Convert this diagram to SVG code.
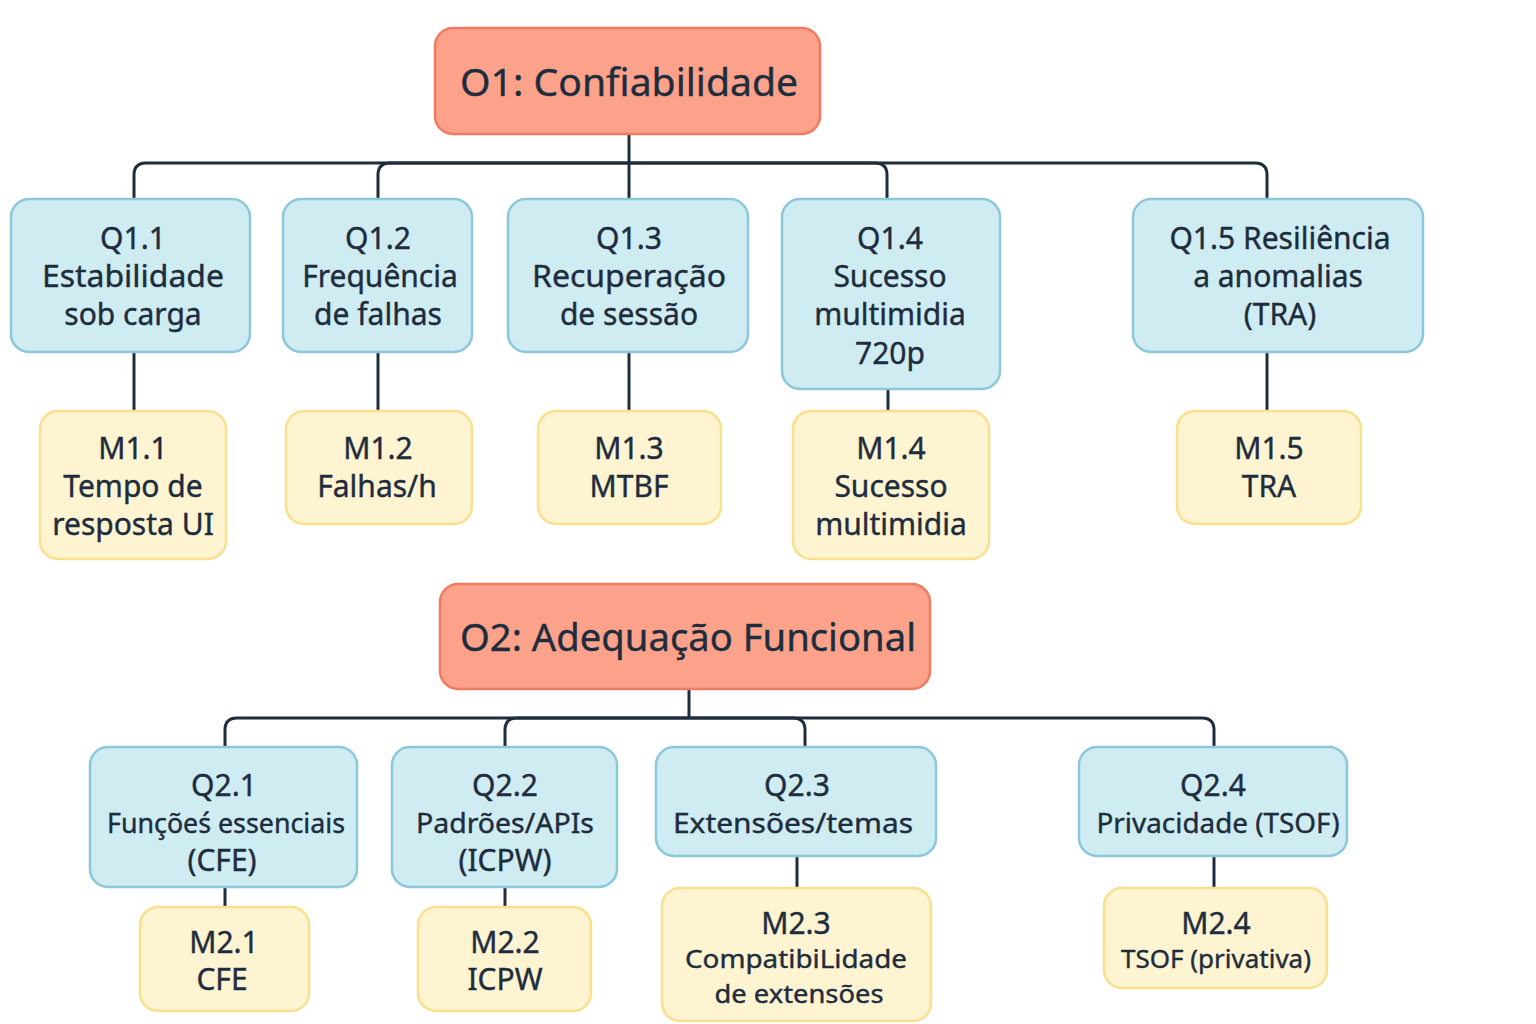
<svg xmlns="http://www.w3.org/2000/svg" width="1536" height="1024" viewBox="0 0 1536 1024">
<style>
.o{fill:#FCA28A;stroke:#F07A62;stroke-width:2.5}
.q{fill:#D0ECF3;stroke:#8DC7DA;stroke-width:2.5}
.m{fill:#FFF4D2;stroke:#FADF8C;stroke-width:2.5}
text{font-family:"Noto Sans","Open Sans","DejaVu Sans",sans-serif;fill:#1E2D3D;text-anchor:middle;stroke:#1E2D3D;stroke-width:0.4}
.t1{font-size:39px}
.t2{font-size:30px}
.t3{font-size:27px}
.t4{font-size:26px}
.c{fill:none;stroke:#1E2D3D;stroke-width:3}
</style>
<rect width="1536" height="1024" fill="#FFFFFF"/>
<g id="connectors">
<path class="c" d="M629,134 V199"/>
<path class="c" d="M629,163 H146 Q134,163 134,175 V199"/>
<path class="c" d="M629,163 H390 Q378,163 378,175 V199"/>
<path class="c" d="M629,163 H875 Q887,163 887,175 V199"/>
<path class="c" d="M629,163 H1255 Q1267,163 1267,175 V199"/>
<path class="c" d="M134,352 V411"/>
<path class="c" d="M378,352 V411"/>
<path class="c" d="M629,352 V411"/>
<path class="c" d="M888,389 V411"/>
<path class="c" d="M1267,352 V411"/>
<path class="c" d="M689,689 V718"/>
<path class="c" d="M689,718 H237 Q225,718 225,730 V747"/>
<path class="c" d="M689,718 H517 Q505,718 505,730 V747"/>
<path class="c" d="M689,718 H793 Q805,718 805,730 V747"/>
<path class="c" d="M689,718 H1202 Q1214,718 1214,730 V747"/>
<path class="c" d="M225,887 V907"/>
<path class="c" d="M505,887 V907"/>
<path class="c" d="M797,856 V888"/>
<path class="c" d="M1214,856 V888"/>
</g>
<g id="O1"><rect class="o" x="435" y="28" width="385" height="106" rx="18"/><text class="t1" x="629" y="96" textLength="338" lengthAdjust="spacingAndGlyphs">O1: Confiabilidade</text></g>
<g id="Q1.1"><rect class="q" x="11" y="199" width="239" height="153" rx="18"/><text class="t2" x="133" y="249">Q1.1</text><text class="t2" x="133" y="287" textLength="182" lengthAdjust="spacingAndGlyphs">Estabilidade</text><text class="t2" x="133" y="325">sob carga</text></g>
<g id="Q1.2"><rect class="q" x="283" y="199" width="189" height="153" rx="18"/><text class="t2" x="378" y="249">Q1.2</text><text class="t2" x="380" y="287">Frequência</text><text class="t2" x="378" y="325">de falhas</text></g>
<g id="Q1.3"><rect class="q" x="508" y="199" width="240" height="153" rx="18"/><text class="t2" x="629" y="249">Q1.3</text><text class="t2" x="629" y="287" textLength="194" lengthAdjust="spacingAndGlyphs">Recuperação</text><text class="t2" x="629" y="325">de sessão</text></g>
<g id="Q1.4"><rect class="q" x="782" y="199" width="218" height="190" rx="18"/><text class="t2" x="890" y="249">Q1.4</text><text class="t2" x="890" y="287">Sucesso</text><text class="t2" x="890" y="325">multimidia</text><text class="t2" x="890" y="364">720p</text></g>
<g id="Q1.5"><rect class="q" x="1133" y="199" width="290" height="153" rx="18"/><text class="t2" x="1280" y="249">Q1.5 Resiliência</text><text class="t2" x="1278" y="287">a anomalias</text><text class="t2" x="1280" y="325">(TRA)</text></g>
<g id="M1.1"><rect class="m" x="40" y="411" width="186" height="148" rx="18"/><text class="t2" x="133" y="459">M1.1</text><text class="t2" x="133" y="497">Tempo de</text><text class="t2" x="133" y="535">resposta UI</text></g>
<g id="M1.2"><rect class="m" x="286" y="411" width="186" height="113" rx="18"/><text class="t2" x="378" y="459">M1.2</text><text class="t2" x="377" y="497">Falhas/h</text></g>
<g id="M1.3"><rect class="m" x="538" y="411" width="183" height="113" rx="18"/><text class="t2" x="629" y="459">M1.3</text><text class="t2" x="629" y="497">MTBF</text></g>
<g id="M1.4"><rect class="m" x="793" y="411" width="196" height="148" rx="18"/><text class="t2" x="891" y="459">M1.4</text><text class="t2" x="891" y="497">Sucesso</text><text class="t2" x="891" y="535">multimidia</text></g>
<g id="M1.5"><rect class="m" x="1177" y="411" width="184" height="113" rx="18"/><text class="t2" x="1269" y="459">M1.5</text><text class="t2" x="1269" y="497">TRA</text></g>
<g id="O2"><rect class="o" x="440" y="584" width="490" height="105" rx="18"/><text class="t1" x="688" y="651" textLength="456" lengthAdjust="spacingAndGlyphs">O2: Adequação Funcional</text></g>
<g id="Q2.1"><rect class="q" x="90" y="747" width="267" height="140" rx="18"/><text class="t2" x="224" y="796">Q2.1</text><text class="t3" x="226" y="833" textLength="238" lengthAdjust="spacingAndGlyphs">Funçõeś essenciais</text><text class="t2" x="222" y="871">(CFE)</text></g>
<g id="Q2.2"><rect class="q" x="392" y="747" width="225" height="140" rx="18"/><text class="t2" x="505" y="796">Q2.2</text><text class="t3" x="505" y="833" textLength="178" lengthAdjust="spacingAndGlyphs">Padrões/APIs</text><text class="t2" x="505" y="871">(ICPW)</text></g>
<g id="Q2.3"><rect class="q" x="656" y="747" width="280" height="109" rx="18"/><text class="t2" x="797" y="796">Q2.3</text><text class="t3" x="793" y="833" textLength="240" lengthAdjust="spacingAndGlyphs">Extensões/temas</text></g>
<g id="Q2.4"><rect class="q" x="1079" y="747" width="268" height="109" rx="18"/><text class="t2" x="1213" y="796">Q2.4</text><text class="t3" x="1218" y="833" textLength="243" lengthAdjust="spacingAndGlyphs">Privacidade (TSOF)</text></g>
<g id="M2.1"><rect class="m" x="140" y="907" width="169" height="104" rx="18"/><text class="t2" x="224" y="953">M2.1</text><text class="t2" x="222" y="990">CFE</text></g>
<g id="M2.2"><rect class="m" x="418" y="907" width="173" height="104" rx="18"/><text class="t2" x="505" y="953">M2.2</text><text class="t2" x="505" y="990">ICPW</text></g>
<g id="M2.3"><rect class="m" x="662" y="888" width="269" height="133" rx="18"/><text class="t2" x="796" y="934">M2.3</text><text class="t4" x="796" y="968" textLength="222" lengthAdjust="spacingAndGlyphs">CompatibiLidade</text><text class="t4" x="799" y="1003" textLength="169" lengthAdjust="spacingAndGlyphs">de extensões</text></g>
<g id="M2.4"><rect class="m" x="1104" y="888" width="223" height="100" rx="18"/><text class="t2" x="1216" y="934">M2.4</text><text class="t4" x="1216" y="968" textLength="190" lengthAdjust="spacingAndGlyphs">TSOF (privativa)</text></g>
</svg>
